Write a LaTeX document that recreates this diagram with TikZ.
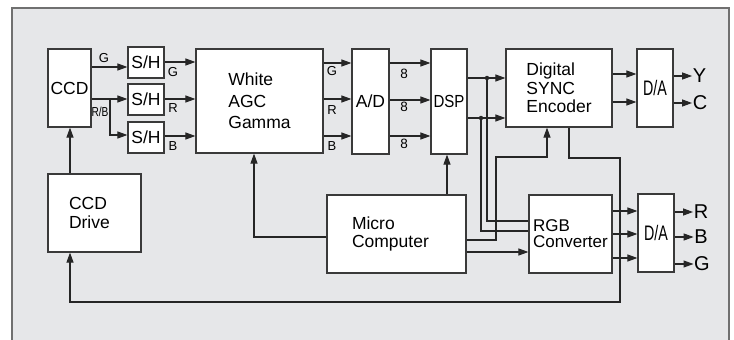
\documentclass[tikz,border=0pt]{standalone}
\usepackage{fontspec}
\usepackage{graphicx}
\setmainfont{Liberation Sans}
\usetikzlibrary{arrows.meta}
\definecolor{panelfill}{HTML}{E6E7E9}
\definecolor{panelline}{HTML}{707070}
\definecolor{linec}{HTML}{262626}
\definecolor{boxc}{HTML}{3A3A3A}
\tikzset{
  box/.style={draw=boxc, fill=white, line width=1.2pt, inner sep=0pt,
    font=\fontsize{17.5}{18.5}\selectfont},
  wire/.style={draw=linec, line width=1.1pt},
  arr/.style={wire, -{Triangle[length=10pt,width=7pt]}},
  lbl/.style={inner sep=0pt, font=\fontsize{13}{13}\selectfont},
  biglbl/.style={inner sep=0.5pt, font=\fontsize{20}{20}\selectfont},
  dot/.style={circle, fill=linec, inner sep=0pt, minimum size=4.5pt},
}
\newcommand{\condA}[1]{\scalebox{0.68}[1]{\fontsize{21}{21}\selectfont #1}}
\begin{document}
\begin{tikzpicture}[x=1pt,y=-1pt]
\useasboundingbox (0,0) rectangle (734,340);
\begin{scope}
  \clip (0,0) rectangle (734,340);
  \draw[fill=panelfill, draw=panelline, line width=1.8pt] (12,8) rectangle (729,360);
\end{scope}

% boxes
\node[box, minimum width=43pt, minimum height=78pt] (ccd) at (69.5,88) {CCD};
\node[box, minimum width=36pt, minimum height=31pt] (sh1) at (146,62.5) {S/H};
\node[box, minimum width=36pt, minimum height=31pt] (sh2) at (146,99.5) {S/H};
\node[box, minimum width=36pt, minimum height=31pt] (sh3) at (146,137.5) {S/H};
\node[box, minimum width=127pt, minimum height=104pt, align=left, font=\fontsize{17.5}{21.5}\selectfont] (agc) at (259.5,101) {White\\AGC\\Gamma};
\node[box, minimum width=37pt, minimum height=105pt] (ad) at (370.5,101.5) {A/D};
\node[box, minimum width=36pt, minimum height=105pt] (dsp) at (449,101.5) {\scalebox{0.86}[1]{DSP}};
\node[box, minimum width=106pt, minimum height=78pt, align=left] (enc) at (559,88) {Digital\\SYNC\\Encoder};
\node[box, minimum width=36pt, minimum height=78pt] (da1) at (655,88) {\condA{D/A}};
\node[box, minimum width=93pt, minimum height=78pt, align=left, text width=51pt] (drive) at (94.5,213) {CCD\\Drive};
\node[box, minimum width=139pt, minimum height=78pt, align=left, text width=89pt] (micro) at (396.5,234) {Micro\\Computer};
\node[box, minimum width=83pt, minimum height=78pt, align=left, font=\fontsize{17}{16}\selectfont] (rgb) at (570.5,234) {RGB\\Converter};
\node[box, minimum width=36pt, minimum height=78pt] (da2) at (656,233) {\condA{D/A}};

% output labels
\node[biglbl] (Y) at (699.5,76) {Y};
\node[biglbl] (C) at (700,103) {C};
\node[biglbl] (R) at (701,212) {R};
\node[biglbl] (B) at (701,237) {B};
\node[biglbl] (G) at (702,264) {G};

% small labels
\node[lbl] (lg0) at (104,58) {G};
\node[lbl] (lrb) at (100,112) {\scalebox{0.78}[1]{R/B}};
\node[lbl] (lg1) at (173,72) {G};
\node[lbl] (lr1) at (173,108) {R};
\node[lbl] (lb1) at (173,146) {B};
\node[lbl] (lg2) at (332,71) {G};
\node[lbl] (lr2) at (332,110) {R};
\node[lbl] (lb2) at (332,146) {B};
\node[lbl, font=\fontsize{13.5}{13.5}\selectfont] (n1) at (404,74) {8};
\node[lbl, font=\fontsize{13.5}{13.5}\selectfont] (n2) at (404,107) {8};
\node[lbl, font=\fontsize{13.5}{13.5}\selectfont] (n3) at (404,144) {8};

% CCD -> S/H
\draw[arr] (ccd.east |- 0,67) -- (sh1.west |- 0,67);
\draw[arr] (ccd.east |- 0,99) -- (sh2.west |- 0,99);
\coordinate (rbsplit) at (110,99);
\draw[arr] (rbsplit) |- (sh3.west |- 0,135);

% S/H -> AGC
\draw[arr] (sh1.east |- 0,62) -- (agc.west |- 0,62);
\draw[arr] (sh2.east |- 0,99) -- (agc.west |- 0,99);
\draw[arr] (sh3.east |- 0,136) -- (agc.west |- 0,136);

% AGC -> A/D
\draw[arr] (agc.east |- 0,63) -- (ad.west |- 0,63);
\draw[arr] (agc.east |- 0,99) -- (ad.west |- 0,99);
\draw[arr] (agc.east |- 0,136) -- (ad.west |- 0,136);

% A/D -> DSP
\draw[arr] (ad.east |- 0,63) -- (dsp.west |- 0,63);
\draw[arr] (ad.east |- 0,100) -- (dsp.west |- 0,100);
\draw[arr] (ad.east |- 0,136) -- (dsp.west |- 0,136);

% DSP -> Encoder
\node[dot] (d1) at (487,78) {};
\node[dot] (d2) at (481,118) {};
\draw[arr] (dsp.east |- 0,78) -- (enc.west |- 0,78);
\draw[arr] (dsp.east |- 0,118) -- (enc.west |- 0,118);
\draw[wire] (d1.center) |- (rgb.west |- 0,221);
\draw[wire] (d2.center) |- (rgb.west |- 0,231);

% Encoder -> D/A -> Y,C
\draw[arr] (enc.east |- 0,74) -- (da1.west |- 0,74);
\draw[arr] (enc.east |- 0,102) -- (da1.west |- 0,102);
\draw[arr] (da1.east |- Y) -- (Y.west);
\draw[arr] (da1.east |- C) -- (C.west);

% Micro connections
\draw[arr] (micro.east |- 0,240) -- (496,240) -- (496,157) -- (547,157) -- (enc.south -| 547,0);
\draw[arr] (micro.east |- 0,252) -- (rgb.west |- 0,252);
\draw[arr] (micro.west |- 0,237) -| (agc.south -| 254,0);
\draw[arr] (micro.north -| 447,0) -- (dsp.south -| 447,0);

% RGB -> D/A -> R,B,G
\draw[arr] (rgb.east |- 0,211) -- (da2.west |- 0,211);
\draw[arr] (rgb.east |- 0,234) -- (da2.west |- 0,234);
\draw[arr] (rgb.east |- 0,258) -- (da2.west |- 0,258);
\draw[arr] (da2.east |- R) -- (R.west);
\draw[arr] (da2.east |- B) -- (B.west);
\draw[arr] (da2.east |- G) -- (G.west);

% feedback to CCD drive
\draw[arr] (enc.south -| 569,0) -- (569,158) -- (620,158) -- (620,302) -- (70,302) -- (drive.south -| 70,0);
\draw[arr] (drive.north -| 70,0) -- (ccd.south -| 70,0);
\end{tikzpicture}
\end{document}
